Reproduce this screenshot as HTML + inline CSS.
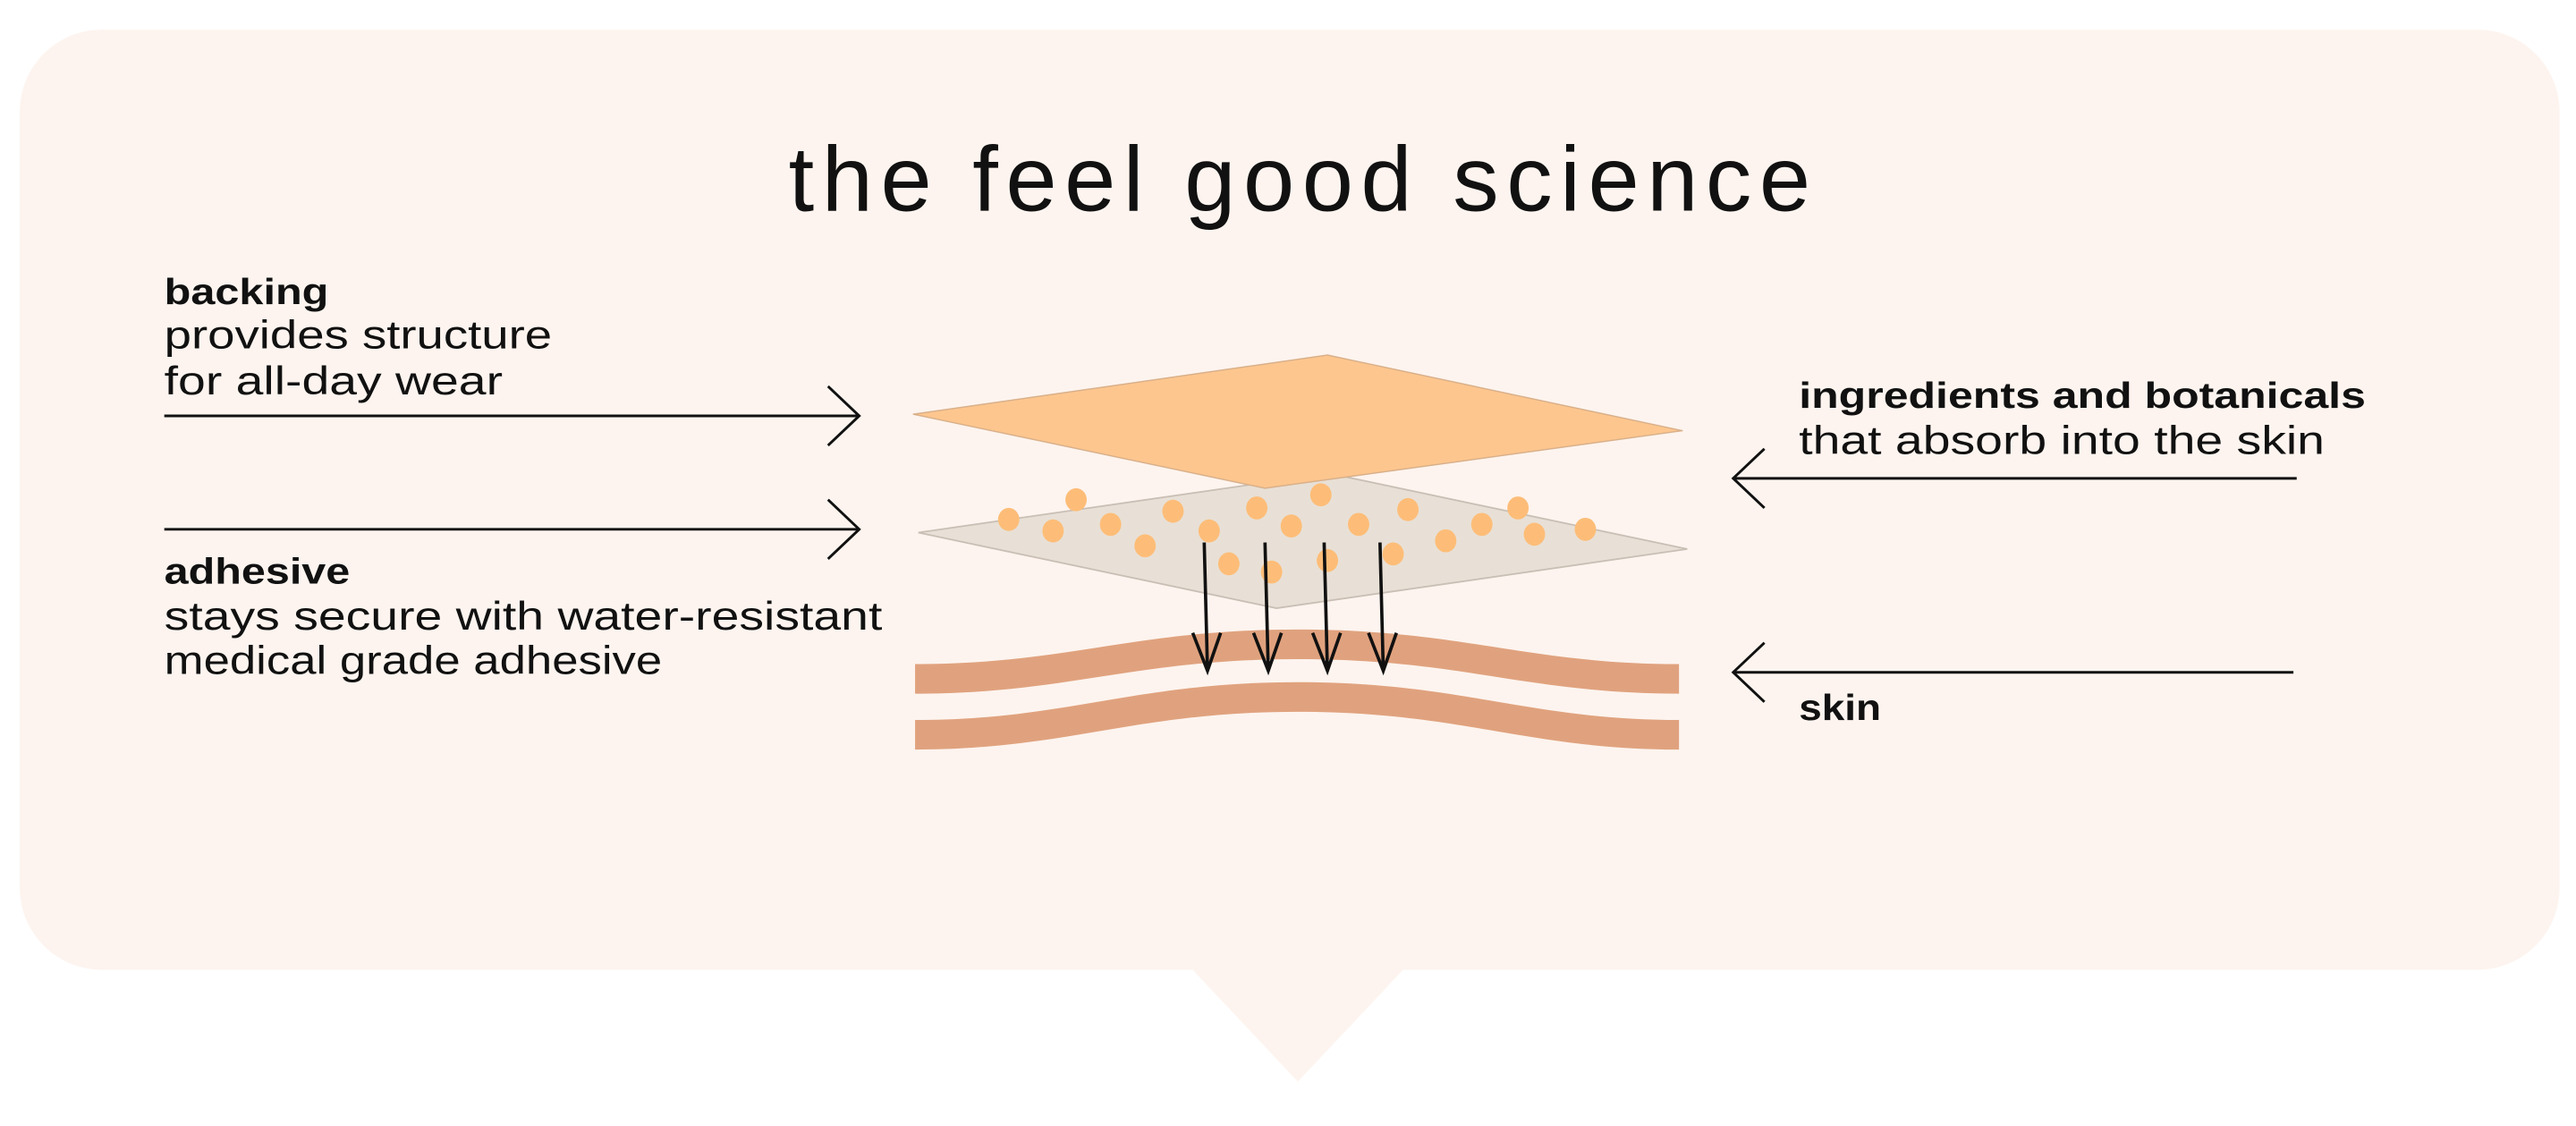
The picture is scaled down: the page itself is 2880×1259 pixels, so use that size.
<!DOCTYPE html>
<html><head><meta charset="utf-8"><style>
html,body{margin:0;padding:0;background:#fff;}
svg{display:block;}
text{font-family:"Liberation Sans",sans-serif;fill:#111;}
</style></head><body>
<svg width="2880" height="1259" viewBox="0 0 1568 685" preserveAspectRatio="none" xmlns="http://www.w3.org/2000/svg">
<rect x="0" y="0" width="1568" height="685" fill="#fff"/>
<rect x="12" y="18" width="1546" height="572" rx="50" fill="#fdf4ef"/>
<polygon points="725,589 855,589 790,658" fill="#fdf4ef"/>
<text x="480" y="128" font-size="56" textLength="622" lengthAdjust="spacing">the feel good science</text>

<text x="100" y="185" font-size="22" font-weight="bold" textLength="100" lengthAdjust="spacingAndGlyphs">backing</text>
<text x="100" y="212" font-size="24" textLength="236" lengthAdjust="spacingAndGlyphs">provides structure</text>
<text x="100" y="240" font-size="24" textLength="206" lengthAdjust="spacingAndGlyphs">for all-day wear</text>
<text x="100" y="355" font-size="22" font-weight="bold" textLength="113" lengthAdjust="spacingAndGlyphs">adhesive</text>
<text x="100" y="383" font-size="24" textLength="437" lengthAdjust="spacingAndGlyphs">stays secure with water-resistant</text>
<text x="100" y="410" font-size="24" textLength="303" lengthAdjust="spacingAndGlyphs">medical grade adhesive</text>
<text x="1095" y="248" font-size="22" font-weight="bold" textLength="345" lengthAdjust="spacingAndGlyphs">ingredients and botanicals</text>
<text x="1095" y="276" font-size="24" textLength="320" lengthAdjust="spacingAndGlyphs">that absorb into the skin</text>
<text x="1095" y="438" font-size="22" font-weight="bold" textLength="50" lengthAdjust="spacingAndGlyphs">skin</text>

<g stroke="#111" stroke-width="1.6" fill="none">
<line x1="100" y1="253" x2="523" y2="253"/><polyline points="504,235 523,253 504,271"/>
<line x1="100" y1="322" x2="523" y2="322"/><polyline points="504,304 523,322 504,340"/>
<line x1="1398" y1="291" x2="1055" y2="291"/><polyline points="1074,273 1055,291 1074,309"/>
<line x1="1396" y1="409" x2="1055" y2="409"/><polyline points="1074,391 1055,409 1074,427"/>
</g>

<path d="M557,404 C650,404 690,383 790,383 C890,383 930,404 1022,404 L1022,422 C930,422 890,401 790,401 C690,401 650,422 557,422 Z" fill="#e0a27e"/>
<path d="M557,438 C650,438 690,415 790,415 C890,415 930,438 1022,438 L1022,456 C930,456 890,433 790,433 C690,433 650,456 557,456 Z" fill="#e0a27e"/>

<polygon points="559,324 809,288 1027,334 777,370" fill="#e8e0d6" stroke="#c9bfb5" stroke-width="1"/>
<g fill="#fdbd78">
<ellipse cx="614" cy="316" rx="6.5" ry="7"/><ellipse cx="655" cy="304" rx="6.5" ry="7"/>
<ellipse cx="641" cy="323" rx="6.5" ry="7"/><ellipse cx="676" cy="319" rx="6.5" ry="7"/>
<ellipse cx="697" cy="332" rx="6.5" ry="7"/><ellipse cx="714" cy="311" rx="6.5" ry="7"/>
<ellipse cx="736" cy="323" rx="6.5" ry="7"/><ellipse cx="765" cy="309" rx="6.5" ry="7"/>
<ellipse cx="786" cy="320" rx="6.5" ry="7"/><ellipse cx="804" cy="301" rx="6.5" ry="7"/>
<ellipse cx="827" cy="319" rx="6.5" ry="7"/><ellipse cx="857" cy="310" rx="6.5" ry="7"/>
<ellipse cx="880" cy="329" rx="6.5" ry="7"/><ellipse cx="902" cy="319" rx="6.5" ry="7"/>
<ellipse cx="924" cy="309" rx="6.5" ry="7"/><ellipse cx="934" cy="325" rx="6.5" ry="7"/>
<ellipse cx="965" cy="322" rx="6.5" ry="7"/><ellipse cx="748" cy="343" rx="6.5" ry="7"/>
<ellipse cx="774" cy="348" rx="6.5" ry="7"/><ellipse cx="808" cy="341" rx="6.5" ry="7"/>
<ellipse cx="848" cy="337" rx="6.5" ry="7"/>
</g>
<polygon points="556,252 808,216 1024,262 770,297" fill="#fdc68e" stroke="#d9b08a" stroke-width="0.8" stroke-linejoin="round"/>

<g stroke="#111" stroke-width="2" fill="none">
<line x1="733" y1="330" x2="735" y2="408"/><polyline points="726,385 735,408 743,385"/>
<line x1="770" y1="330" x2="772" y2="408"/><polyline points="763,385 772,408 780,385"/>
<line x1="806" y1="330" x2="808" y2="408"/><polyline points="799,385 808,408 816,385"/>
<line x1="840" y1="330" x2="842" y2="408"/><polyline points="833,385 842,408 850,385"/>
</g>
</svg>
</body></html>
